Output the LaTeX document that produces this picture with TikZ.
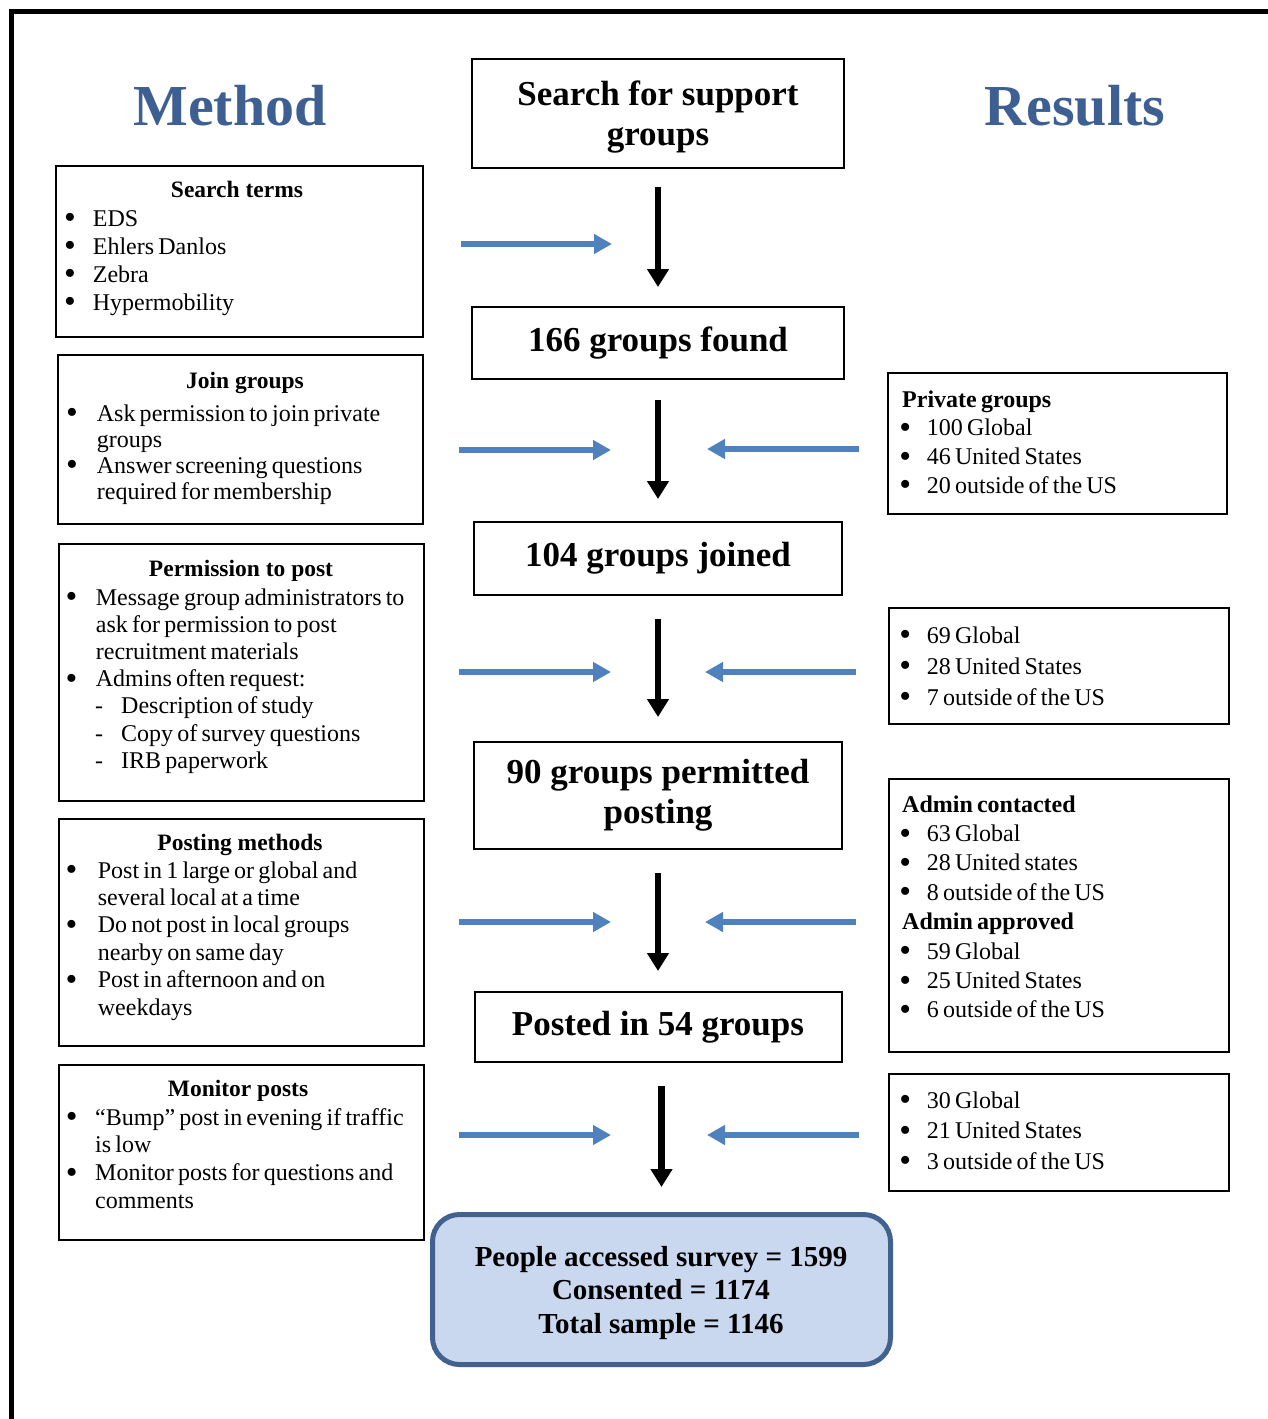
\documentclass[tikz,border=0pt]{standalone}
\usepackage{fontspec}
\setmainfont{Liberation Serif}
\usetikzlibrary{arrows.meta}
\definecolor{titleblue}{HTML}{3E5F92}
\definecolor{arrowblue}{HTML}{4F81BD}
\definecolor{finalfill}{HTML}{C9D8EE}
\definecolor{finaldraw}{HTML}{41618F}
\newlength\bg
\setlength\bg{18pt}
\newcommand\bul{\smash{\raisebox{-2.6pt}{\scalebox{1.4}{\textbullet}}}}
\newcommand\bu[1]{\leavevmode\llap{\bul\hspace{\bg}}#1}
\newcommand\da[1]{\leavevmode\hspace*{25.3pt}\llap{-\hspace{18pt}}#1}
\newcommand\hd[1]{\leavevmode\hspace*{-24.7pt}\textbf{#1}}
\tikzset{
  box/.style={draw, line width=2pt, inner sep=0pt},
  cbox/.style={box, align=center, font=\fontsize{35}{40}\selectfont\bfseries},
  ctext/.style={anchor=base, inner sep=0pt, align=center},
  lhead/.style={anchor=base, inner sep=0pt, font=\fontsize{23.5}{28}\selectfont\bfseries},
  list/.style={anchor=base west, inner sep=0pt, text width=340pt, align=left,
    execute at begin node={\spaceskip=4.2pt plus 1pt minus 1pt}},
  bigtitle/.style={anchor=base, inner sep=0pt, text=titleblue, font=\fontsize{58}{60}\selectfont\bfseries},
  flow/.style={line width=6.5pt, -{Triangle[length=18pt,width=21pt]}},
  side/.style={arrowblue, line width=6pt, -{Triangle[length=18pt,width=19pt]}},
}
\begin{document}
\begin{tikzpicture}[x=1pt, y=-1pt]
\useasboundingbox (0,0) rectangle (1268,1419);
% frame
\draw[line width=5pt] (11.5,1419) -- (11.5,11.5) -- (1268,11.5);
% titles
\node[bigtitle] (tmethod) at (230,125) {Method};
\node[bigtitle] (tresults) at (1075,125) {Results};
% central column
\node[box, minimum width=372pt, minimum height=109pt] (search) at (658,113.5) {};
\node[ctext, font=\fontsize{35}{40}\selectfont\bfseries] (searcht) at (658,145) {Search for support\\groups};
\node[cbox, minimum width=372pt, minimum height=72pt] (found) at (658,343) {166 groups found};
\node[cbox, minimum width=368pt, minimum height=73pt] (joined) at (658,558.5) {104 groups joined};
\node[cbox, minimum width=368pt, minimum height=107pt] (permitted) at (658,795.5) {90 groups permitted\\posting};
\node[cbox, minimum width=367pt, minimum height=70pt] (posted) at (658,1027) {Posted in 54 groups};
\node[draw=finaldraw, fill=finalfill, line width=5pt, rounded corners=27pt, minimum width=458pt, minimum height=150pt, inner sep=0pt] (final) at (661.5,1289.5) {};
\node[ctext, font=\fontsize{29}{33.5}\selectfont\bfseries] (finalt) at (661,1333) {People accessed survey = 1599\\Consented = 1174\\Total sample = 1146};
% flow arrows
\draw[flow, shorten <=18pt, shorten >=19pt] (search) -- (found);
\draw[flow, shorten <=20pt, shorten >=22pt] (found) -- (joined);
\draw[flow, shorten <=23pt, shorten >=24pt] (joined) -- (permitted);
\draw[flow, shorten <=23pt, shorten >=20pt] (permitted) -- (posted);
\draw[flow, shorten <=23pt, shorten >=25pt] (posted.south -| final.north) -- (final.north);
% left boxes
\node[box, minimum width=367pt, minimum height=171pt] (st) at (239.5,251.5) {};
\node[lhead] (sth) at (237,197) {Search terms};
\node[list, font={\fontsize{24}{28}\selectfont\setlength\bg{17pt}}] (stl) at (92.7,226) {\bu{EDS}\\\bu{Ehlers Danlos}\\\bu{Zebra}\\\bu{Hypermobility}};

\node[box, minimum width=365pt, minimum height=169pt] (jg) at (240.5,439.5) {};
\node[lhead] (jgh) at (245,388) {Join groups};
\node[list, font={\fontsize{24}{26}\selectfont\setlength\bg{19pt}}] (jgl) at (96.7,421) {\bu{Ask permission to join private}\\groups\\\bu{Answer screening questions}\\required for membership};

\node[box, minimum width=365pt, minimum height=257pt] (pp) at (241.5,672.5) {};
\node[lhead] (pph) at (241,576) {Permission to post};
\node[list, font={\fontsize{24}{27.2}\selectfont\setlength\bg{18.5pt}}] (ppl) at (95.7,605) {\bu{Message group administrators to}\\ask for permission to post\\recruitment materials\\\bu{Admins often request:}\\\da{Description of study}\\\da{Copy of survey questions}\\\da{IRB paperwork}};

\node[box, minimum width=365pt, minimum height=227pt] (pm) at (241.5,932.5) {};
\node[lhead] (pmh) at (240,850) {Posting methods};
\node[list, font={\fontsize{24}{27.4}\selectfont\setlength\bg{20.5pt}}] (pml) at (97.7,878) {\bu{Post in 1 large or global and}\\several local at a time\\\bu{Do not post in local groups}\\nearby on same day\\\bu{Post in afternoon and on}\\weekdays};

\node[box, minimum width=365pt, minimum height=175pt] (mp) at (241.5,1152.5) {};
\node[lhead] (mph) at (238,1096) {Monitor posts};
\node[list, font={\fontsize{24}{27.8}\selectfont\setlength\bg{17.5pt}}] (mpl) at (95,1125) {\bu{“Bump” post in evening if traffic}\\is low\\\bu{Monitor posts for questions and}\\comments};

% right boxes
\node[box, minimum width=339pt, minimum height=141pt] (pg) at (1057.5,443.5) {};
\node[list, font={\fontsize{24}{28.7}\selectfont\setlength\bg{15.8pt}}] (pgl) at (926.7,407) {\hd{Private groups}\\\bu{100 Global}\\\bu{46 United States}\\\bu{20 outside of the US}};

\node[box, minimum width=340pt, minimum height=116pt] (rb) at (1059,666) {};
\node[list, font={\fontsize{24}{31}\selectfont\setlength\bg{15.8pt}}] (rbl) at (926.7,643) {\bu{69 Global}\\\bu{28 United States}\\\bu{7 outside of the US}};

\node[box, minimum width=340pt, minimum height=273pt] (ad) at (1059,915.5) {};
\node[list, font={\fontsize{24}{29.4}\selectfont\setlength\bg{15.8pt}}] (adl) at (926.7,812) {\hd{Admin contacted}\\\bu{63 Global}\\\bu{28 United states}\\\bu{8 outside of the US}\\\hd{Admin approved}\\\bu{59 Global}\\\bu{25 United States}\\\bu{6 outside of the US}};

\node[box, minimum width=340pt, minimum height=117pt] (rd) at (1059,1132.5) {};
\node[list, font={\fontsize{24}{30.5}\selectfont\setlength\bg{15.8pt}}] (rdl) at (926.7,1108) {\bu{30 Global}\\\bu{21 United States}\\\bu{3 outside of the US}};

% blue side arrows
\coordinate (tl1) at (612,244);
\coordinate (tl2) at (611,450);
\coordinate (tl3) at (611,672);
\coordinate (tl4) at (611,922);
\coordinate (tl5) at (611,1135);
\coordinate (tr2) at (707,449);
\coordinate (tr3) at (705,672);
\coordinate (tr4) at (705,922);
\coordinate (tr5) at (707,1135);
\draw[side, shorten <=37pt] (st.east |- tl1) -- (tl1);
\draw[side, shorten <=35pt] (jg.east |- tl2) -- (tl2);
\draw[side, shorten <=34pt] (pp.east |- tl3) -- (tl3);
\draw[side, shorten <=34pt] (pm.east |- tl4) -- (tl4);
\draw[side, shorten <=34pt] (mp.east |- tl5) -- (tl5);
\draw[side, shorten <=28pt] (pg.west |- tr2) -- (tr2);
\draw[side, shorten <=32pt] (rb.west |- tr3) -- (tr3);
\draw[side, shorten <=32pt] (ad.west |- tr4) -- (tr4);
\draw[side, shorten <=29pt] (rd.west |- tr5) -- (tr5);
\end{tikzpicture}
\end{document}
